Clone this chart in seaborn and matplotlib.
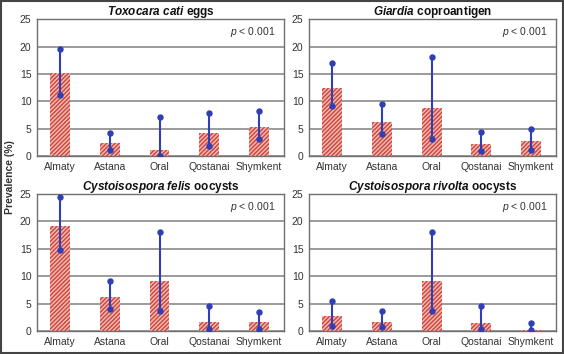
import pandas as pd
import numpy as np
import matplotlib
matplotlib.use("Agg")
import matplotlib.pyplot as plt
import seaborn as sns
from matplotlib.patches import Rectangle

# Data
cities = ["Almaty", "Astana", "Oral", "Qostanai", "Shymkent"]

toxocara = [15.1, 2.4, 1.2, 4.2, 5.3]
toxocara_lo = [11.1, 1.1, 0.1, 1.9, 3.2]
toxocara_hi = [19.5, 4.3, 7.1, 7.9, 8.2]

giardia = [12.4, 6.3, 8.7, 2.3, 2.7]
giardia_lo = [9.1, 4.0, 3.2, 1.0, 1.2]
giardia_hi = [17.0, 9.5, 18.0, 4.4, 4.9]

felis = [19.1, 6.2, 9.2, 1.6, 1.6]
felis_lo = [14.8, 4.0, 3.7, 0.3, 0.4]
felis_hi = [24.5, 9.2, 18.1, 4.5, 3.5]

rivolta = [2.8, 1.7, 9.1, 1.5, 0.2]
rivolta_lo = [1.0, 0.7, 3.7, 0.3, 0.1]
rivolta_hi = [5.5, 3.7, 18.1, 4.5, 1.5]

titles = [r"$\mathbfit{Toxocara\ cati}$ eggs",
          r"$\mathbfit{Giardia}$ coproantigen",
          r"$\mathbfit{Cystoisospora\ felis}$ oocysts",
          r"$\mathbfit{Cystoisospora\ rivolta}$ oocysts"]

panels = [(toxocara, toxocara_lo, toxocara_hi),
          (giardia, giardia_lo, giardia_hi),
          (felis, felis_lo, felis_hi),
          (rivolta, rivolta_lo, rivolta_hi)]

sns.set_style("white")
plt.rcParams["font.family"] = ["Liberation Sans", "DejaVu Sans"]
plt.rcParams["mathtext.fontset"] = "custom"
plt.rcParams["mathtext.rm"] = "Liberation Sans"
plt.rcParams["mathtext.it"] = "Liberation Sans:italic"
plt.rcParams["mathtext.bf"] = "Liberation Sans:bold"
plt.rcParams["mathtext.bfit"] = "Liberation Sans:bold:italic"
plt.rcParams["hatch.linewidth"] = 1.0

bar_face = "#efb8b2"
bar_hatch = "#cf4439"
err_col = "#2f3fb5"
grid_col = "#8a8a8a"
text_col = "#333333"

fig = plt.figure(figsize=(5.64, 3.54), dpi=100)
positions = [(0.0656, 0.559), (0.548, 0.559), (0.0656, 0.065), (0.548, 0.065)]

for (left, bottom), title, (vals, lo, hi) in zip(positions, titles, panels):
    ax = fig.add_axes([left, bottom, 0.438, 0.387])
    df = pd.DataFrame({"city": cities, "prev": vals, "lo": lo, "hi": hi})
    sns.barplot(data=df, x="city", y="prev", ax=ax, width=0.4,
                color=bar_face, saturation=1, errorbar=None, zorder=2)
    for p in ax.patches:
        p.set_hatch("////////")
        p.set_edgecolor(bar_hatch)
        p.set_linewidth(0)
    xs = np.arange(len(cities))
    ax.vlines(xs, df["lo"], df["hi"], color=err_col, lw=1.5, zorder=3)
    ax.plot(xs, df["lo"], "o", color=err_col, ms=3.6, zorder=4)
    ax.plot(xs, df["hi"], "o", color=err_col, ms=3.6, zorder=4)

    ax.set_ylim(0, 25)
    ax.set_xlim(-0.46, 4.5)
    ax.set_yticks([0, 5, 10, 15, 20, 25])
    ax.yaxis.grid(True, color=grid_col, lw=1.2, zorder=0)
    ax.set_axisbelow(True)
    ax.set_xlabel("")
    ax.set_ylabel("")
    ax.tick_params(axis="both", length=0, labelsize=7.5, colors=text_col, pad=4)
    for s in ax.spines.values():
        s.set_visible(True)
        s.set_color("#707070")
        s.set_linewidth(1.0)
    ax.set_title(title, fontsize=8.5, fontweight="bold", pad=3, color="#111111")
    ax.text(0.965, 0.905, r"$\it{p}$ < 0.001", transform=ax.transAxes,
            ha="right", va="center", fontsize=7.5, color=text_col)

fig.text(0.018, 0.5, "Prevalence (%)", rotation=90, ha="center", va="center",
         fontsize=7.5, fontweight="bold", color=text_col)

fig.patches.append(Rectangle((0.002, 0.003), 0.996, 0.994, transform=fig.transFigure,
                             fill=False, edgecolor="#444444", lw=1.5))

fig.savefig("out.png", dpi=100)
